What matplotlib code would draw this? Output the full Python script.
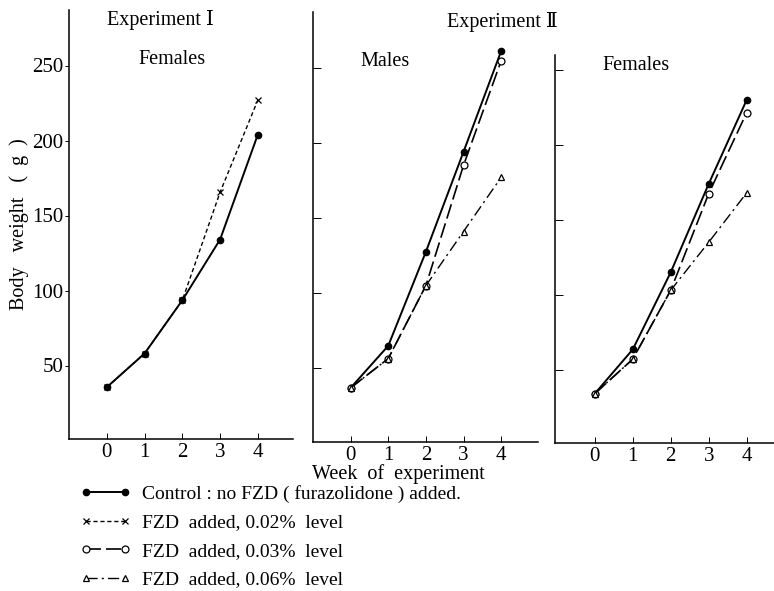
import matplotlib
matplotlib.use('Agg')
from matplotlib import pyplot as plt

plt.rcParams['font.family'] = ['Liberation Serif', 'DejaVu Serif', 'Noto Sans CJK JP']

weeks = [0, 1, 2, 3, 4]

# Experiment I, females
exp1_f_control = [35.5, 58, 93.5, 134, 204]
exp1_f_fzd002 = [35.5, 58, 93.5, 165.5, 227]

# Experiment II, males
exp2_m_control = [37, 65, 127.5, 194, 261]
exp2_m_fzd003 = [37, 56.5, 105, 185, 254.5]
exp2_m_fzd006 = [37, 56.5, 105, 141, 177]

# Experiment II, females
exp2_f_control = [34, 63.5, 115, 174, 230]
exp2_f_fzd003 = [34, 57, 103, 167.5, 221.5]
exp2_f_fzd006 = [34, 57, 103, 135, 168]

yticks = [50, 100, 150, 200, 250]
legend_labels = ['Control : no FZD ( furazolidone ) added.',
                 'FZD  added, 0.02%  level',
                 'FZD  added, 0.03%  level',
                 'FZD  added, 0.06%  level']

W, H = 774, 591
fig = plt.figure(figsize=(W/100, H/100), dpi=100)

def px_axes(x0, x1, y_top, y_bot):
    return fig.add_axes([x0/W, 1-y_bot/H, (x1-x0)/W, (y_bot-y_top)/H])

ax1 = px_axes(69, 293, 10, 439)
ax2 = px_axes(313, 538, 12, 442)
ax3 = px_axes(555, 774, 55, 443)

st_control = dict(color='black', lw=1.4, ls='-', marker='o', ms=4.5, mfc='black')
st_002 = dict(color='black', lw=1.0, ls=(0, (3, 2)), marker='x', ms=5, mew=0.9)
st_003 = dict(color='black', lw=1.2, ls=(0, (9, 3)), marker='o', ms=5, mfc='white', mew=0.9)
st_006 = dict(color='black', lw=1.0, ls=(0, (8, 3, 1.5, 3)), marker='^', ms=5, mfc='white', mew=0.9)

h_c, = ax1.plot(weeks, exp1_f_control, **st_control)
h_2, = ax1.plot(weeks, exp1_f_fzd002, **st_002)
ax2.plot(weeks, exp2_m_control, **st_control)
h_3, = ax2.plot(weeks, exp2_m_fzd003, **st_003)
h_6, = ax2.plot(weeks, exp2_m_fzd006, **st_006)
ax3.plot(weeks, exp2_f_control, **st_control)
ax3.plot(weeks, exp2_f_fzd003, **st_003)
ax3.plot(weeks, exp2_f_fzd006, **st_006)

ax1.set_xlim(-1, 4.93)
ax2.set_xlim(-1, 4.98)
ax3.set_xlim(-1.05, 4.72)
ax1.set_ylim(1, 287)
ax2.set_ylim(1, 287)
ax3.set_ylim(1, 260)

for ax in (ax1, ax2, ax3):
    for s in ('top', 'right'):
        ax.spines[s].set_visible(False)
    ax.spines['left'].set_linewidth(1.1)
    ax.spines['bottom'].set_linewidth(1.1)
    ax.set_xticks(weeks)
    ax.set_yticks(yticks)
    ax.tick_params(axis='x', direction='in', length=4, width=0.7, labelsize=15, pad=3)
ax1.tick_params(axis='y', direction='out', length=3, width=0.7, labelsize=15, pad=1)
for ax in (ax2, ax3):
    ax.tick_params(axis='y', direction='in', length=6, width=0.7, labelleft=False)

ax1.set_ylabel('Body   weight   (  g  )', fontsize=14.5, labelpad=2)

fs = 14.5
fig.text(160/W, 1-20/H, 'Experiment Ⅰ', ha='center', va='center', fontsize=fs)
fig.text(172/W, 1-60/H, 'Females', ha='center', va='center', fontsize=fs)
fig.text(502/W, 1-22/H, 'Experiment Ⅱ', ha='center', va='center', fontsize=fs)
fig.text(385/W, 1-62/H, 'Males', ha='center', va='center', fontsize=fs)
fig.text(636/W, 1-65/H, 'Females', ha='center', va='center', fontsize=fs)
fig.text(398/W, 1-474/H, 'Week  of  experiment', ha='center', va='center', fontsize=fs)

fig.legend([h_c, h_2, h_3, h_6], legend_labels, loc='upper left',
           bbox_to_anchor=(80/W, 1-485/H), frameon=False, fontsize=14,
           handlelength=2.6, handletextpad=0.6, labelspacing=0.56, numpoints=2,
           borderpad=0, borderaxespad=0)

fig.savefig('out.png', dpi=100)
